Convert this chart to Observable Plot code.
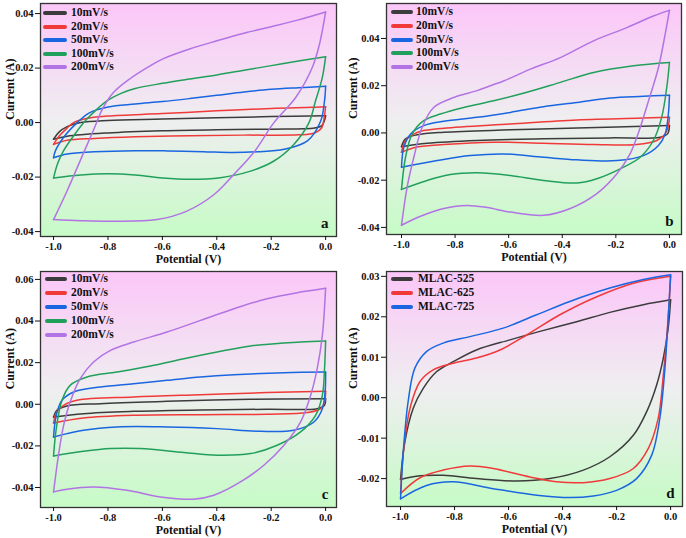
<!DOCTYPE html>
<html><head><meta charset="utf-8">
<script src="https://cdn.jsdelivr.net/npm/d3@7"></script>
<script src="https://cdn.jsdelivr.net/npm/@observablehq/plot@0.6"></script>
<style>
body{margin:0;background:#fff;}
#wrap{position:relative;width:686px;height:538px;overflow:hidden;font-family:"Liberation Serif","Times New Roman",serif;}
.cell{position:absolute;}
.leg{position:absolute;left:0;top:0;font-weight:bold;font-size:11.5px;color:#111;}
.sw{position:absolute;height:4px;border-radius:2px;}
.lt{position:absolute;white-space:nowrap;line-height:1;transform:translateY(-50%);}
svg{overflow:visible;}
</style></head><body><div id="wrap"></div>
<script>
// ---- labels, ticks, colours ----
const rateLabels = ["10mV/s","20mV/s","50mV/s","100mV/s","200mV/s"];
const rateColors = ["#3c3c3c","#f03a3a","#1a66e0","#21a05c","#b273e4"];
const sampleLabels = ["MLAC-525","MLAC-625","MLAC-725"];
const sampleColors = ["#3c3c3c","#f03a3a","#1a66e0"];
const xTicks = [-1.0,-0.8,-0.6,-0.4,-0.2,0.0];
const yTicksA = [-0.04,-0.02,0.00,0.02,0.04];
const yTicksB = [-0.04,-0.02,0.00,0.02,0.04];
const yTicksC = [-0.04,-0.02,0.00,0.02,0.04,0.06];
const yTicksD = [-0.02,-0.01,0.00,0.01,0.02,0.03];

// ---- panel a : [potential V, current A] ----
const a10 = [[-1,-0.0061],[-0.98,-0.0035],[-0.95,-0.0015],[-0.9,0.0],[-0.8,0.0008],[-0.6,0.0013],[-0.4,0.0018],[-0.2,0.0022],[0,0.0025],[-0.005,0.0005],[-0.015,-0.0012],[-0.04,-0.002],[-0.2,-0.0024],[-0.4,-0.0026],[-0.6,-0.003],[-0.8,-0.0038],[-0.95,-0.005],[-1,-0.0061]];
const a20 = [[-1,-0.008],[-0.98,-0.005],[-0.95,-0.002],[-0.926,0.0],[-0.88,0.0015],[-0.8,0.0024],[-0.6,0.0033],[-0.4,0.0043],[-0.2,0.0052],[-0.05,0.0056],[0,0.0058],[-0.005,0.002],[-0.015,-0.002],[-0.04,-0.0038],[-0.1,-0.0045],[-0.3,-0.0046],[-0.5,-0.0048],[-0.7,-0.0052],[-0.85,-0.0058],[-0.95,-0.0065],[-1,-0.008]];
const a50 = [[-1,-0.0129],[-0.993,-0.0103],[-0.96,-0.005],[-0.913,0.0],[-0.87,0.0035],[-0.8,0.0057],[-0.7,0.0068],[-0.6,0.0077],[-0.5,0.0088],[-0.4,0.01],[-0.3,0.0112],[-0.2,0.0122],[-0.1,0.0128],[0,0.0133],[-0.004,0.008],[-0.018,0.0006],[-0.067,-0.0067],[-0.153,-0.0098],[-0.25,-0.0107],[-0.34,-0.011],[-0.45,-0.0107],[-0.58,-0.0104],[-0.7,-0.0103],[-0.85,-0.0107],[-0.95,-0.0115],[-1,-0.0129]];
const a100 = [[-1,-0.0203],[-0.985,-0.015],[-0.963,-0.0103],[-0.92,-0.004],[-0.88,0.001],[-0.846,0.0044],[-0.8,0.0082],[-0.75,0.0108],[-0.7,0.0125],[-0.6,0.0144],[-0.5,0.016],[-0.4,0.0175],[-0.3,0.0192],[-0.2,0.0209],[-0.1,0.0226],[0,0.0242],[-0.012,0.0166],[-0.037,0.008],[-0.061,0.0],[-0.117,-0.008],[-0.19,-0.0141],[-0.276,-0.0178],[-0.387,-0.0202],[-0.5,-0.0208],[-0.6,-0.0203],[-0.7,-0.0192],[-0.8,-0.0188],[-0.9,-0.0192],[-1,-0.0203]];
const a200 = [[-1,-0.0356],[-0.95,-0.025],[-0.9,-0.0135],[-0.85,-0.002],[-0.82,0.005],[-0.78,0.011],[-0.72,0.016],[-0.65,0.0205],[-0.6,0.0233],[-0.5,0.027],[-0.4,0.03],[-0.3,0.0328],[-0.2,0.0352],[-0.1,0.0377],[0,0.0406],[-0.022,0.029],[-0.049,0.0202],[-0.11,0.0092],[-0.19,0.0],[-0.26,-0.0104],[-0.337,-0.019],[-0.41,-0.0264],[-0.51,-0.0325],[-0.62,-0.0356],[-0.79,-0.0362],[-0.9,-0.036],[-1,-0.0356]];

// ---- panel b ----
const b10 = [[-1,-0.0058],[-0.985,-0.0025],[-0.942,-0.0008],[-0.842,0.0003],[-0.594,0.0013],[-0.345,0.0021],[0,0.0031],[-0.007,-0.0004],[-0.035,-0.0018],[-0.221,-0.0021],[-0.47,-0.0025],[-0.718,-0.0032],[-0.904,-0.0044],[-1,-0.0058]];
const b20 = [[-1,-0.0082],[-0.985,-0.0032],[-0.954,-0.0005],[-0.929,0.0007],[-0.842,0.002],[-0.594,0.0038],[-0.345,0.0055],[-0.097,0.0063],[0,0.0066],[-0.004,0.0031],[-0.016,-0.0004],[-0.047,-0.0032],[-0.122,-0.0049],[-0.283,-0.0049],[-0.47,-0.0044],[-0.656,-0.0039],[-0.842,-0.0049],[-0.942,-0.006],[-1,-0.0082]];
const b50 = [[-1,-0.0145],[-0.991,-0.006],[-0.966,-0.0004],[-0.917,0.0031],[-0.842,0.0049],[-0.718,0.0066],[-0.594,0.0087],[-0.47,0.0111],[-0.345,0.0129],[-0.221,0.0148],[-0.097,0.0155],[0,0.016],[-0.004,0.008],[-0.016,-0.0004],[-0.041,-0.0053],[-0.097,-0.0096],[-0.196,-0.0117],[-0.345,-0.0114],[-0.47,-0.0103],[-0.619,-0.0089],[-0.743,-0.0096],[-0.867,-0.0117],[-1,-0.0145]];
const b100 = [[-1,-0.0239],[-0.985,-0.0103],[-0.96,-0.0004],[-0.917,0.0052],[-0.855,0.008],[-0.768,0.0108],[-0.656,0.0136],[-0.532,0.0172],[-0.407,0.0214],[-0.283,0.0256],[-0.134,0.0284],[0,0.0298],[-0.01,0.0193],[-0.029,0.0066],[-0.06,-0.0032],[-0.109,-0.0103],[-0.184,-0.0152],[-0.271,-0.0194],[-0.345,-0.0212],[-0.47,-0.0201],[-0.594,-0.018],[-0.718,-0.0169],[-0.817,-0.0176],[-0.904,-0.0201],[-1,-0.0239]];
const b200 = [[-1,-0.0391],[-0.979,-0.0229],[-0.954,-0.0103],[-0.923,0.0024],[-0.88,0.0108],[-0.805,0.015],[-0.718,0.0179],[-0.668,0.02],[-0.619,0.022],[-0.519,0.027],[-0.407,0.0319],[-0.283,0.039],[-0.159,0.0446],[-0.06,0.0495],[0,0.0519],[-0.016,0.0418],[-0.041,0.0277],[-0.078,0.0136],[-0.116,0.0],[-0.147,-0.0089],[-0.196,-0.0173],[-0.271,-0.0257],[-0.37,-0.032],[-0.47,-0.0349],[-0.594,-0.0335],[-0.68,-0.0316],[-0.755,-0.0307],[-0.842,-0.032],[-0.929,-0.0353],[-1,-0.0391]];

// ---- panel c ----
const c10 = [[-1,-0.0061],[-0.988,-0.0029],[-0.951,-0.0008],[-0.828,0.0003],[-0.583,0.0014],[-0.276,0.0024],[0,0.0027],[-0.004,-0.0005],[-0.031,-0.0021],[-0.215,-0.0024],[-0.46,-0.0027],[-0.706,-0.0034],[-0.89,-0.0045],[-1,-0.0061]];
const c20 = [[-1,-0.009],[-0.988,-0.0037],[-0.963,-0.0005],[-0.914,0.0019],[-0.706,0.0035],[-0.46,0.0046],[-0.215,0.0056],[0,0.0062],[-0.004,0.0011],[-0.018,-0.0021],[-0.067,-0.004],[-0.215,-0.0048],[-0.46,-0.005],[-0.706,-0.0053],[-0.89,-0.0066],[-1,-0.009]];
const c50 = [[-1,-0.0157],[-0.99,-0.0053],[-0.969,0.0019],[-0.926,0.0059],[-0.828,0.0083],[-0.706,0.0099],[-0.583,0.0115],[-0.46,0.0131],[-0.337,0.0142],[-0.153,0.0152],[0,0.0155],[-0.002,0.0059],[-0.012,-0.0021],[-0.043,-0.0085],[-0.117,-0.0125],[-0.239,-0.013],[-0.399,-0.0117],[-0.583,-0.0109],[-0.767,-0.0109],[-0.89,-0.0125],[-1,-0.0157]];
const c100 = [[-1,-0.0248],[-0.99,-0.0117],[-0.969,0.0019],[-0.939,0.0091],[-0.877,0.0131],[-0.767,0.0155],[-0.644,0.0184],[-0.521,0.0219],[-0.399,0.0251],[-0.276,0.028],[-0.092,0.0299],[0,0.0304],[-0.004,0.0171],[-0.012,0.0043],[-0.037,-0.0053],[-0.092,-0.0133],[-0.178,-0.0197],[-0.276,-0.0237],[-0.399,-0.0245],[-0.521,-0.0232],[-0.681,-0.0213],[-0.791,-0.0213],[-0.89,-0.0226],[-1,-0.0248]];
const c200 = [[-1,-0.0421],[-0.982,-0.0245],[-0.963,-0.0101],[-0.939,0.0011],[-0.902,0.0123],[-0.853,0.0203],[-0.791,0.0259],[-0.706,0.0299],[-0.583,0.0347],[-0.46,0.0403],[-0.337,0.0459],[-0.215,0.0507],[-0.092,0.0539],[0,0.0558],[-0.012,0.0331],[-0.031,0.0171],[-0.055,0.0043],[-0.092,-0.0085],[-0.153,-0.0197],[-0.227,-0.0293],[-0.313,-0.0373],[-0.411,-0.0437],[-0.485,-0.0456],[-0.607,-0.0445],[-0.73,-0.0413],[-0.853,-0.0397],[-0.951,-0.0408],[-1,-0.0421]];

// ---- panel d ----
const d525 = [[-1,-0.0202],[-0.984,-0.0109],[-0.953,-0.0026],[-0.916,0.0023],[-0.867,0.0064],[-0.805,0.0089],[-0.719,0.0118],[-0.595,0.0143],[-0.484,0.0164],[-0.348,0.0188],[-0.225,0.0211],[-0.101,0.023],[0,0.0242],[-0.009,0.0172],[-0.027,0.0098],[-0.052,0.0031],[-0.089,-0.0035],[-0.138,-0.0093],[-0.225,-0.0146],[-0.323,-0.0179],[-0.447,-0.02],[-0.57,-0.0206],[-0.719,-0.02],[-0.842,-0.0192],[-0.928,-0.0193],[-1,-0.0202]];
const d625 = [[-1,-0.0237],[-0.988,-0.0126],[-0.965,-0.0026],[-0.928,0.004],[-0.879,0.0069],[-0.805,0.0085],[-0.719,0.0098],[-0.632,0.0118],[-0.533,0.0155],[-0.41,0.0205],[-0.286,0.0246],[-0.138,0.0283],[0,0.03],[-0.009,0.0197],[-0.027,0.0056],[-0.046,-0.0051],[-0.083,-0.0126],[-0.138,-0.0175],[-0.225,-0.02],[-0.323,-0.021],[-0.422,-0.0208],[-0.521,-0.0196],[-0.657,-0.0175],[-0.743,-0.0169],[-0.842,-0.0179],[-0.928,-0.0198],[-1,-0.0237]];
const d725 = [[-1,-0.025],[-0.99,-0.0134],[-0.972,-0.001],[-0.947,0.0073],[-0.904,0.0114],[-0.842,0.0135],[-0.743,0.0151],[-0.62,0.0172],[-0.496,0.0205],[-0.373,0.0238],[-0.225,0.0271],[-0.101,0.0292],[0,0.0304],[-0.009,0.0197],[-0.021,0.0073],[-0.04,-0.0051],[-0.07,-0.0142],[-0.126,-0.02],[-0.2,-0.0229],[-0.286,-0.0243],[-0.373,-0.0247],[-0.496,-0.0241],[-0.657,-0.0225],[-0.805,-0.0208],[-0.904,-0.0217],[-1,-0.025]];

const FONT = '"Liberation Serif","Times New Roman",serif';
const wrap = document.getElementById("wrap");

// split a closed CV loop into its forward (to 0 V) and reverse (from 0 V) sweeps
function sweeps(s) {
  const k = s.findIndex(d => d[0] === 0);
  return [s.slice(0, k + 1), s.slice(k)];
}

function panel(o) {
  const cell = document.createElement("div");
  cell.className = "cell";
  cell.style.left = o.left + "px"; cell.style.top = o.top + "px";
  cell.style.width = o.width + "px"; cell.style.height = o.height + "px";
  const gid = "grad-" + o.letter;
  const lineMarks = [];
  o.series.forEach((s, i) => {
    for (const part of sweeps(s)) {
      lineMarks.push(Plot.line(part, {x: d => d[0], y: d => d[1], stroke: o.colors[i], strokeWidth: 1.5, curve: "catmull-rom"}));
    }
  });
  const svg = Plot.plot({
    width: o.width, height: o.height,
    marginLeft: o.m[0], marginRight: o.m[1], marginTop: o.m[2], marginBottom: o.m[3],
    x: {domain: o.xDomain},
    y: {domain: o.yDomain},
    style: {fontFamily: FONT, fontSize: "10.5px", fontWeight: "bold", color: "#111", background: "transparent"},
    marks: [
      Plot.frame({fill: `url(#${gid})`}),
      ...lineMarks,
      Plot.frame({stroke: "#333", strokeWidth: 1.3}),
      Plot.axisX({ticks: xTicks, tickFormat: d => d.toFixed(1), tickSize: 4, tickPadding: 2, label: null}),
      Plot.axisY({ticks: o.yTicks, tickFormat: d => d.toFixed(2), tickSize: 5, tickPadding: 2, label: null}),
      Plot.text(["Potential (V)"], {text: d => d, frameAnchor: "bottom", dy: o.xtDy, fontSize: 12, fontWeight: "bold"}),
      Plot.text(["Current (A)"], {text: d => d, frameAnchor: "left", dx: -(o.m[0] - 10), rotate: -90, fontSize: 12, fontWeight: "bold"}),
      Plot.text([o.letter], {text: d => d, frameAnchor: "bottom-right", dx: -8, dy: -9, fontSize: 15, fontWeight: "bold"})
    ]
  });
  d3.select(svg).insert("defs", ":first-child").html(
    `<linearGradient id="${gid}" x1="0" y1="0" x2="0" y2="1">
      <stop offset="0" stop-color="#fbc6f8"/>
      <stop offset="0.5" stop-color="#efeef0"/>
      <stop offset="1" stop-color="#c6fbc6"/>
    </linearGradient>`);
  cell.appendChild(svg);
  const leg = document.createElement("div");
  leg.className = "leg";
  o.labels.forEach((lab, i) => {
    const y = o.leg.y0 + i * o.leg.dy;
    const sw = document.createElement("div");
    sw.className = "sw";
    sw.style.left = o.leg.x + "px"; sw.style.top = (y - 2) + "px";
    sw.style.width = o.leg.w + "px"; sw.style.background = o.colors[i];
    const t = document.createElement("div");
    t.className = "lt";
    t.style.left = o.leg.tx + "px"; t.style.top = y + "px";
    t.textContent = lab;
    leg.appendChild(sw); leg.appendChild(t);
  });
  cell.appendChild(leg);
  wrap.appendChild(cell);
}

panel({letter: "a", left: 0, top: 0, width: 343, height: 268, m: [40, 7, 3, 32],
  xDomain: [-1.048, 0.04], yDomain: [-0.0418, 0.0437], yTicks: yTicksA, xtDy: 26,
  series: [a10, a20, a50, a100, a200], colors: rateColors, labels: rateLabels,
  leg: {x: 43, w: 24, tx: 71, y0: 13, dy: 13.5}});
panel({letter: "b", left: 343, top: 0, width: 343, height: 268, m: [43, 5, 3, 34],
  xDomain: [-1.056, 0.045], yDomain: [-0.043, 0.0548], yTicks: yTicksB, xtDy: 26,
  series: [b10, b20, b50, b100, b200], colors: rateColors, labels: rateLabels,
  leg: {x: 48, w: 22, tx: 73, y0: 12.3, dy: 13.6}});
panel({letter: "c", left: 0, top: 268, width: 343, height: 270, m: [40, 7, 3, 31],
  xDomain: [-1.048, 0.04], yDomain: [-0.0496, 0.0638], yTicks: yTicksC, xtDy: 26,
  series: [c10, c20, c50, c100, c200], colors: rateColors, labels: rateLabels,
  leg: {x: 45, w: 22, tx: 71, y0: 11, dy: 14}});
panel({letter: "d", left: 343, top: 268, width: 343, height: 270, m: [43, 4, 3, 32],
  xDomain: [-1.052, 0.044], yDomain: [-0.0269, 0.0312], yTicks: yTicksD, xtDy: 26,
  series: [d525, d625, d725], colors: sampleColors, labels: sampleLabels,
  leg: {x: 48, w: 22, tx: 75, y0: 11, dy: 14}});
</script></body></html>
